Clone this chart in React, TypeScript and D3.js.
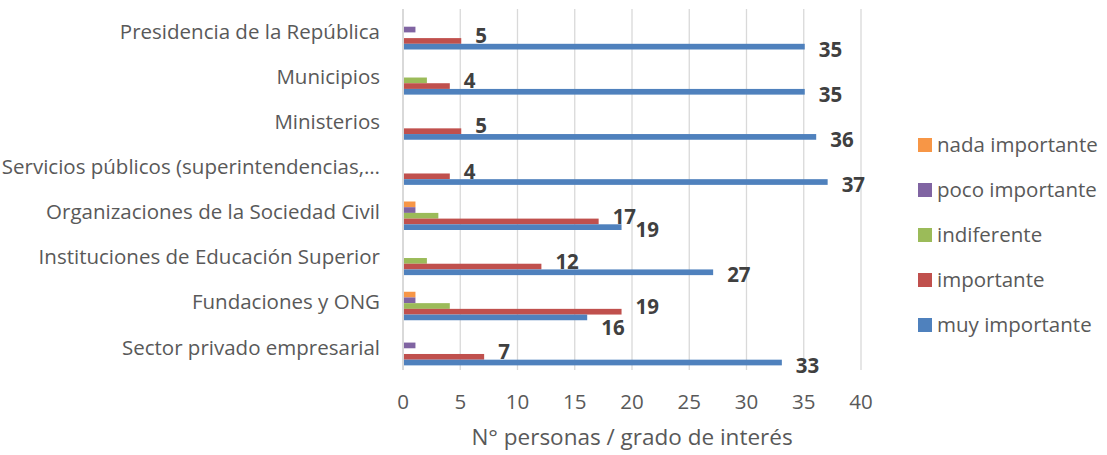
import { useEffect, useRef } from "react";
import * as d3 from "d3";

const categories = [
  "Presidencia de la República",
  "Municipios",
  "Ministerios",
  "Servicios públicos (superintendencias,…",
  "Organizaciones de la Sociedad Civil",
  "Instituciones de Educación Superior",
  "Fundaciones y ONG",
  "Sector privado empresarial",
];

const seriesNames = ["nada importante", "poco importante", "indiferente", "importante", "muy importante"];
const seriesColors = ["#F79646", "#8064A2", "#9BBB59", "#C0504D", "#4F81BD"];

const nadaImportante = [0, 0, 0, 0, 1, 0, 1, 0];
const pocoImportante = [1, 0, 0, 0, 1, 0, 1, 1];
const indiferente = [0, 2, 0, 0, 3, 2, 4, 0];
const importante = [5, 4, 5, 4, 17, 12, 19, 7];
const muyImportante = [35, 35, 36, 37, 19, 27, 16, 33];

const xTicks = [0, 5, 10, 15, 20, 25, 30, 35, 40];

const W = 1107;
const H = 455;
const FONT = "'Open Sans', sans-serif";
const TEXT = "#595959";

export default function App() {
  const svgRef = useRef<SVGSVGElement | null>(null);

  useEffect(() => {
    if (!svgRef.current) return;
    const svg = d3.select(svgRef.current);
    svg.selectAll("*").remove();

    const values = [nadaImportante, pocoImportante, indiferente, importante, muyImportante];

    const x = d3.scaleLinear().domain([0, 40]).range([403, 861]);
    const y0 = d3.scaleBand<string>().domain(categories).range([9, 370]);
    const y1 = d3
      .scaleBand<string>()
      .domain(seriesNames)
      .range([12, 40.5]);

    // gridlines
    svg
      .append("g")
      .selectAll("line")
      .data(xTicks)
      .enter()
      .append("line")
      .attr("x1", (d) => x(d))
      .attr("x2", (d) => x(d))
      .attr("y1", 9)
      .attr("y2", 370)
      .attr("stroke", "#d9d9d9")
      .attr("stroke-width", (d) => (d === 0 ? 2 : 1.3));

    // bars
    const groups = svg
      .append("g")
      .selectAll("g")
      .data(categories)
      .enter()
      .append("g")
      .attr("transform", (d) => `translate(0, ${y0(d)})`);

    groups
      .selectAll("rect")
      .data((_, i) => seriesNames.map((s, k) => ({ s, k, v: values[k][i] })))
      .enter()
      .append("rect")
      .attr("x", x(0) + 1)
      .attr("y", (d) => y1(d.s) || 0)
      .attr("width", (d) => Math.max(0, x(d.v) - x(0)))
      .attr("height", y1.bandwidth())
      .attr("fill", (d) => seriesColors[d.k]);

    // data labels (importante, muy importante)
    groups.each(function (_, i) {
      const g = d3.select(this);
      const red = importante[i];
      const blue = muyImportante[i];
      const redY = (y1("importante") || 0) + y1.bandwidth() / 2 - 5;
      const blueY = (y1("muy importante") || 0) + y1.bandwidth() / 2 + (blue < red ? 10 : 3);
      [
        { v: red, yy: redY },
        { v: blue, yy: blueY },
      ].forEach((l) => {
        g.append("text")
          .attr("x", x(l.v) + 15)
          .attr("y", l.yy)
          .attr("dy", "0.35em")
          .attr("font-family", FONT)
          .attr("font-size", 20.5)
          .attr("font-weight", 700)
          .attr("fill", "#404040")
          .text(l.v);
      });
    });

    // category labels
    svg
      .append("g")
      .selectAll("text")
      .data(categories)
      .enter()
      .append("text")
      .attr("x", 380)
      .attr("y", (d) => (y0(d) || 0) + y0.bandwidth() / 2)
      .attr("dy", "0.35em")
      .attr("text-anchor", "end")
      .attr("font-family", FONT)
      .attr("font-size", 20.5)
      .attr("fill", TEXT)
      .text((d) => d);

    // x tick labels
    svg
      .append("g")
      .selectAll("text")
      .data(xTicks)
      .enter()
      .append("text")
      .attr("x", (d) => x(d))
      .attr("y", 402)
      .attr("dy", "0.35em")
      .attr("text-anchor", "middle")
      .attr("font-family", FONT)
      .attr("font-size", 20.5)
      .attr("fill", TEXT)
      .text((d) => d);

    // axis title
    svg
      .append("text")
      .attr("x", (x(0) + x(40)) / 2)
      .attr("y", 437)
      .attr("dy", "0.35em")
      .attr("text-anchor", "middle")
      .attr("font-family", FONT)
      .attr("font-size", 22.5)
      .attr("fill", TEXT)
      .text("N° personas / grado de interés");

    // legend
    const legend = svg
      .append("g")
      .selectAll("g")
      .data(seriesNames)
      .enter()
      .append("g")
      .attr("transform", (_, i) => `translate(918, ${145 + i * 45})`);
    legend
      .append("rect")
      .attr("x", 0)
      .attr("y", -7)
      .attr("width", 14)
      .attr("height", 14)
      .attr("fill", (_, i) => seriesColors[i]);
    legend
      .append("text")
      .attr("x", 19)
      .attr("y", 0)
      .attr("dy", "0.35em")
      .attr("font-family", FONT)
      .attr("font-size", 20.5)
      .attr("fill", TEXT)
      .text((d) => d);
  }, []);

  return (
    <svg
      ref={svgRef}
      width={W}
      height={H}
      style={{ position: "absolute", left: 0, top: 0, background: "#fff" }}
    />
  );
}
